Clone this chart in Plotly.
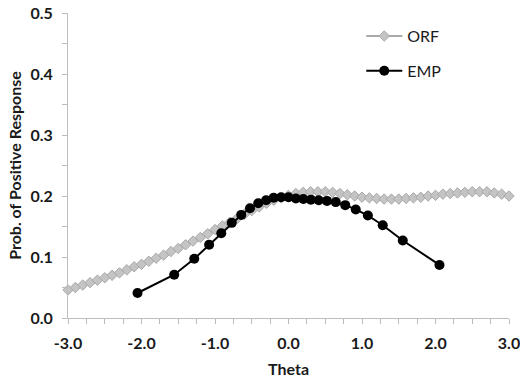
import plotly.graph_objects as go

orf_theta = [-3.0, -2.9, -2.8, -2.7, -2.6, -2.5, -2.4, -2.3, -2.2, -2.1,
             -2.0, -1.9, -1.8, -1.7, -1.6, -1.5, -1.4, -1.3, -1.2, -1.1,
             -1.0, -0.9, -0.8, -0.7, -0.6, -0.5, -0.4, -0.3, -0.2, -0.1,
             0.0, 0.1, 0.2, 0.3, 0.4, 0.5, 0.6, 0.7, 0.8, 0.9,
             1.0, 1.1, 1.2, 1.3, 1.4, 1.5, 1.6, 1.7, 1.8, 1.9,
             2.0, 2.1, 2.2, 2.3, 2.4, 2.5, 2.6, 2.7, 2.8, 2.9, 3.0]
orf_prob = [0.046, 0.050, 0.054, 0.058, 0.062, 0.066, 0.070, 0.074, 0.079, 0.084,
            0.088, 0.093, 0.098, 0.103, 0.109, 0.114, 0.120, 0.126, 0.132, 0.138,
            0.145, 0.151, 0.157, 0.163, 0.170, 0.176, 0.182, 0.188, 0.193, 0.197,
            0.201, 0.204, 0.206, 0.207, 0.207, 0.207, 0.206, 0.204, 0.202, 0.200,
            0.198, 0.197, 0.196, 0.195, 0.195, 0.195, 0.196, 0.197, 0.198, 0.200,
            0.201, 0.203, 0.204, 0.205, 0.206, 0.207, 0.207, 0.207, 0.205, 0.203, 0.200]

emp_theta = [-2.054, -1.555, -1.282, -1.080, -0.915, -0.772, -0.643, -0.524, -0.412,
             -0.305, -0.202, -0.100, 0.000, 0.100, 0.202, 0.305, 0.412, 0.524,
             0.643, 0.772, 0.915, 1.080, 1.282, 1.555, 2.054]
emp_prob = [0.041, 0.071, 0.097, 0.120, 0.139, 0.156, 0.169, 0.180, 0.188,
            0.193, 0.197, 0.198, 0.198, 0.196, 0.195, 0.194, 0.193, 0.192,
            0.190, 0.185, 0.178, 0.168, 0.152, 0.127, 0.087]

x_ticks = [-3.0, -2.0, -1.0, 0.0, 1.0, 2.0, 3.0]
x_tick_labels = ["-3.0", "-2.0", "-1.0", "0.0", "1.0", "2.0", "3.0"]
y_ticks = [0.0, 0.1, 0.2, 0.3, 0.4, 0.5]
y_tick_labels = ["0.0", "0.1", "0.2", "0.3", "0.4", "0.5"]

FONT = "Lato, 'Open Sans', sans-serif"
AXIS_GREY = "#bdbdbd"
TXT = "#1a1a1a"

fig = go.Figure()
fig.add_trace(go.Scatter(
    x=orf_theta, y=orf_prob, name="ORF", mode="lines+markers",
    line=dict(color="#a9a9a9", width=2),
    marker=dict(symbol="diamond", size=8, color="#c4c4c4",
                line=dict(color="#a8a8a8", width=1)),
    legendgroup="a", cliponaxis=False,
))
fig.add_trace(go.Scatter(
    x=emp_theta, y=emp_prob, name="EMP", mode="lines+markers",
    line=dict(color="#000000", width=2),
    marker=dict(symbol="circle", size=10, color="#000000"),
    legendgroup="b", cliponaxis=False,
))

fig.update_layout(
    width=520, height=379,
    margin=dict(l=68, r=11, t=13, b=61),
    paper_bgcolor="white", plot_bgcolor="white",
    font=dict(family=FONT, size=14, color=TXT),
    showlegend=True,
    legend=dict(x=0.665, y=0.98, xanchor="left", yanchor="top",
                bgcolor="rgba(0,0,0,0)", tracegroupgap=11,
                font=dict(family=FONT, size=16, color=TXT),
                itemwidth=36),
    xaxis=dict(
        range=[-3, 3], tickmode="array", tickvals=x_ticks, ticktext=x_tick_labels,
        showgrid=False, zeroline=False, showline=True, linecolor=AXIS_GREY,
        linewidth=1, ticks="outside", ticklen=5, tickcolor=AXIS_GREY,
        minor=dict(dtick=0.25, ticks="outside", ticklen=5, tickcolor=AXIS_GREY),
        tickfont=dict(family=FONT, size=16, color=TXT, weight="bold"),
        ticklabelstandoff=6, ticklabeloverflow="allow",
        title=dict(text="<b>Theta</b>", font=dict(family=FONT, size=16, color=TXT),
                   standoff=12),
        automargin=False,
    ),
    yaxis=dict(
        range=[0, 0.5], tickmode="array", tickvals=y_ticks, ticktext=y_tick_labels,
        showgrid=False, zeroline=False, showline=True, linecolor=AXIS_GREY,
        linewidth=1, ticks="outside", ticklen=5, tickcolor=AXIS_GREY,
        minor=dict(dtick=0.05, ticks="outside", ticklen=5, tickcolor=AXIS_GREY),
        tickfont=dict(family=FONT, size=16, color=TXT, weight="bold"),
        ticklabelstandoff=6, ticklabeloverflow="allow",
        title=dict(text="<b>Prob. of Positive Response</b>",
                   font=dict(family=FONT, size=16, color=TXT), standoff=4),
        automargin=False,
    ),
)

fig.write_html("out.html", config={"displayModeBar": False},
               post_script="document.body.style.margin='0';document.body.style.padding='0';")
